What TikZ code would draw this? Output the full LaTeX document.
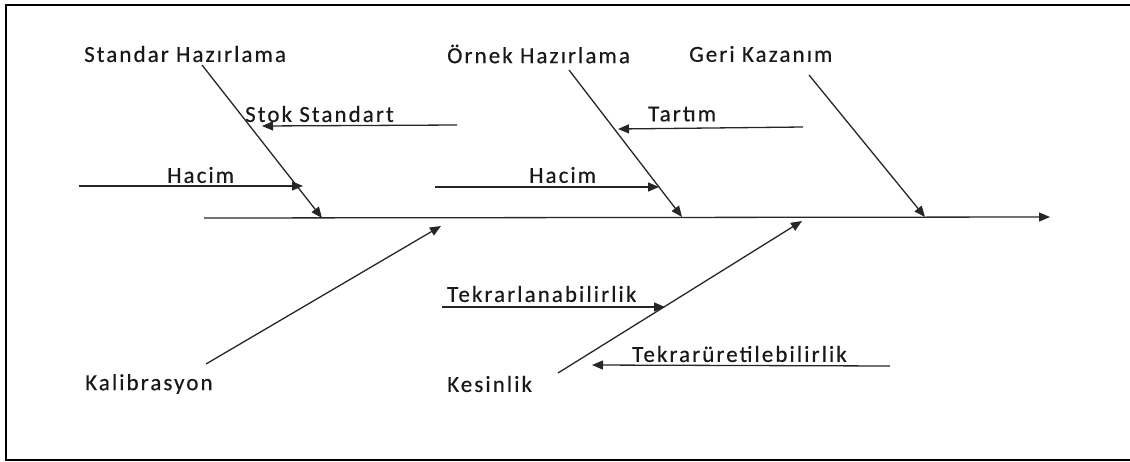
\documentclass[tikz,border=0pt]{standalone}
\usepackage{fontspec}
\setmainfont{Carlito}
\newfontfamily\lblfont[LetterSpace=9,FakeBold=0.4]{Carlito}
\usetikzlibrary{arrows.meta}
\begin{document}
\begin{tikzpicture}[x=1pt,y=-1pt,
  lbl/.style={anchor=west,inner sep=0pt,font=\lblfont\fontsize{23}{27}\selectfont,text=black!90},
  bone/.style={line width=1.3pt,draw=black!85,-{Triangle[length=11pt,width=9pt]}}]
\useasboundingbox (0,0) rectangle (1130,461);
\draw[line width=2pt] (1131,4.5) -- (6,4.5) -- (6,459.5) -- (1131,459.5);
% labels
\node[lbl] (sh) at (84,54) {Standar Hazırlama};
\node[lbl] (ss) at (245,114) {Stok Standart};
\node[lbl] (h1) at (167,175) {Hacim};
\node[lbl] (oh) at (447,54) {Örnek Hazırlama};
\node[lbl] (ta) at (648,114) {Tartım};
\node[lbl] (h2) at (529,175) {Hacim};
\node[lbl] (gk) at (689,54) {Geri Kazanım};
\node[lbl] (ka) at (85,384) {Kalibrasyon};
\node[lbl] (ke) at (447,384) {Kesinlik};
\node[lbl] (tl) at (447,294) {Tekrarlanabilirlik};
\node[lbl] (tu) at (632,354) {Tekrarüretilebilirlik};
% coordinates
\coordinate (s0) at (204,218);
\coordinate (s1) at (1050,217);
\coordinate (a0) at (202,65);   \coordinate (a1) at (322,218);
\coordinate (b0) at (569,70);   \coordinate (b1) at (682,217);
\coordinate (c0) at (809,75);   \coordinate (c1) at (925,217);
\coordinate (d0) at (206,364);  \coordinate (d1) at (441,226);
\coordinate (e0) at (558,373);  \coordinate (e1) at (802,221);
\coordinate (f0) at (457,125);  \coordinate (f1) at (262,126);
\coordinate (g0) at (79,186);   \coordinate (g1) at (303,186);
\coordinate (h0) at (803,127);  \coordinate (h1e) at (618,129);
\coordinate (i0) at (435,187);  \coordinate (i1) at (659,187);
\coordinate (j0) at (442,307);  \coordinate (j1) at (665,307);
\coordinate (k0) at (890,366);  \coordinate (k1) at (592,365);
% spine and bones
\draw[bone] (s0) -- (s1);
\draw[bone] (a0) -- (a1);
\draw[bone] (b0) -- (b1);
\draw[bone] (c0) -- (c1);
\draw[bone] (d0) -- (d1);
\draw[bone] (e0) -- (e1);
\draw[bone] (f0) -- (f1);
\draw[bone] (g0) -- (g1);
\draw[bone] (h0) -- (h1e);
\draw[bone] (i0) -- (i1);
\draw[bone] (j0) -- (j1);
\draw[bone] (k0) -- (k1);
\end{tikzpicture}
\end{document}
